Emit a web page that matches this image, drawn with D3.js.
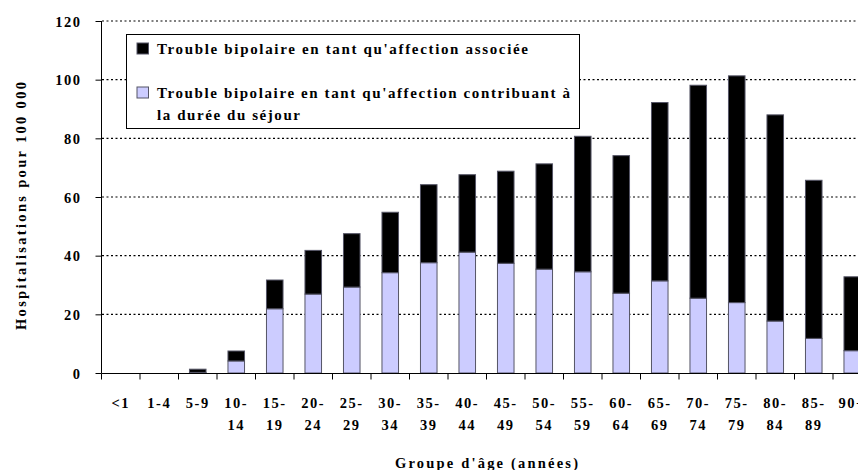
<!DOCTYPE html>
<html><head><meta charset="utf-8">
<script src="https://cdn.jsdelivr.net/npm/d3@7"></script>
<style>body{margin:0;background:#fff}svg{display:block}text{font-family:"Liberation Serif","Times New Roman",serif;font-weight:bold;fill:#000}</style>
</head><body>
<script>
const categories = ["<1","1-4","5-9","10-14","15-19","20-24","25-29","30-34","35-39","40-44","45-49","50-54","55-59","60-64","65-69","70-74","75-79","80-84","85-89","90+"];
const tickLabels1 = ["<1","1-4","5-9","10-","15-","20-","25-","30-","35-","40-","45-","50-","55-","60-","65-","70-","75-","80-","85-","90+"];
const tickLabels2 = ["","","","14","19","24","29","34","39","44","49","54","59","64","69","74","79","84","89",""];
const contributing = [0,0,0.2,4.1,21.9,26.9,29.3,34.2,37.6,41.2,37.4,35.4,34.5,27.2,31.4,25.5,24.0,17.7,11.8,7.6];
const totals = [0,0,1.3,7.5,31.7,41.8,47.5,54.8,64.2,67.6,68.8,71.3,80.7,74.1,92.2,98.1,101.3,88.0,65.7,32.8];
const associated = totals.map((t,i)=>Math.max(0,+(t-contributing[i]).toFixed(1)));
const yTicks = [0,20,40,60,80,100,120];
const seriesNames = ["Trouble bipolaire en tant qu'affection associée","Trouble bipolaire en tant qu'affection contribuant à","la durée du séjour"];
const xTitle = "Groupe d'âge (années)";
const yTitle = "Hospitalisations pour 100 000";

const W=858,H=470;
const svg=d3.select("body").append("svg").attr("width",W).attr("height",H);
const x=d3.scaleBand().domain(categories).range([101.5,871.5]).paddingInner(0.57).paddingOuter(0.285);
const xb=d3.scaleBand().domain(categories).range([101.5,871.5]);
const y=d3.scaleLinear().domain([0,120]).range([373,21]);

// gridlines
svg.append("g").selectAll("line").data(yTicks.filter(d=>d>0)).join("line")
  .attr("x1",102).attr("x2",W).attr("y1",d=>y(d)).attr("y2",d=>y(d))
  .attr("stroke","#000").attr("stroke-width",1.2).attr("stroke-dasharray","2,2.5");

const data=categories.map((c,i)=>({cat:c,contributing:contributing[i],associated:associated[i]}));
const stack=d3.stack().keys(["contributing","associated"])(data);
const colors={contributing:"#ccccff",associated:"#000000"};
svg.append("g").selectAll("g").data(stack).join("g")
  .attr("fill",d=>colors[d.key])
  .selectAll("rect").data(d=>d.filter(p=>p[1]-p[0]>0)).join("rect")
  .attr("x",d=>x(d.data.cat)).attr("width",x.bandwidth())
  .attr("y",d=>y(d[1])).attr("height",d=>y(d[0])-y(d[1]))
  .attr("stroke","#555566").attr("stroke-width",1);

// y axis
const ya=svg.append("g").attr("transform","translate(101.5,0)")
  .call(d3.axisLeft(y).tickValues(yTicks).tickSize(6).tickPadding(14).tickFormat(d3.format("d")));
ya.select(".domain").attr("stroke","#000").attr("d","M0,21V373");
ya.selectAll("text").style("font-size","14.5px").style("letter-spacing","1.5px").attr("font-family",null).attr("dy","0.36em");

// x axis
const xa=svg.append("g").attr("transform","translate(0,373.5)");
xa.append("line").attr("x1",101.5).attr("x2",W).attr("stroke","#000");
xa.selectAll("line.t").data(categories).join("line").attr("class","t")
  .attr("x1",d=>xb(d)+xb.bandwidth()).attr("x2",d=>xb(d)+xb.bandwidth())
  .attr("y1",0).attr("y2",6).attr("stroke","#000");
xa.append("line").attr("x1",101.5).attr("x2",101.5).attr("y1",0).attr("y2",6).attr("stroke","#000");
const lab=xa.selectAll("text.l").data(categories).join("text").attr("class","l")
  .attr("text-anchor","middle").style("font-size","14.5px").style("letter-spacing","1.5px");
lab.append("tspan").attr("x",(d)=>xb(d)+xb.bandwidth()/2).attr("y",34.5).text((d,i)=>tickLabels1[i]);
lab.append("tspan").attr("x",(d)=>xb(d)+xb.bandwidth()/2).attr("y",56.5).text((d,i)=>tickLabels2[i]);

// titles
svg.append("text").attr("x",395).attr("y",468)
  .attr("textLength",183).attr("lengthAdjust","spacing")
  .style("font-size","14.5px").text(xTitle);
svg.append("text").attr("transform","translate(26,330) rotate(-90)")
  .attr("textLength",248).attr("lengthAdjust","spacing")
  .style("font-size","14.5px").text(yTitle);

// legend
const lg=svg.append("g");
lg.append("rect").attr("x",126.5).attr("y",34.5).attr("width",453).attr("height",94)
  .attr("fill","#fff").attr("stroke","#000").attr("stroke-width",1);
lg.append("rect").attr("x",137).attr("y",43).attr("width",11.5).attr("height",11).attr("fill","#000").attr("stroke","#555566");
lg.append("rect").attr("x",137).attr("y",87).attr("width",11.5).attr("height",11).attr("fill","#ccccff").attr("stroke","#555566");
const lt=[[54,371],[98,413],[120,143]];
seriesNames.forEach((s,i)=>{
  lg.append("text").attr("x",157).attr("y",lt[i][0]).attr("textLength",lt[i][1]).attr("lengthAdjust","spacing")
    .style("font-size","15px").text(s);
});
</script>
</body></html>
